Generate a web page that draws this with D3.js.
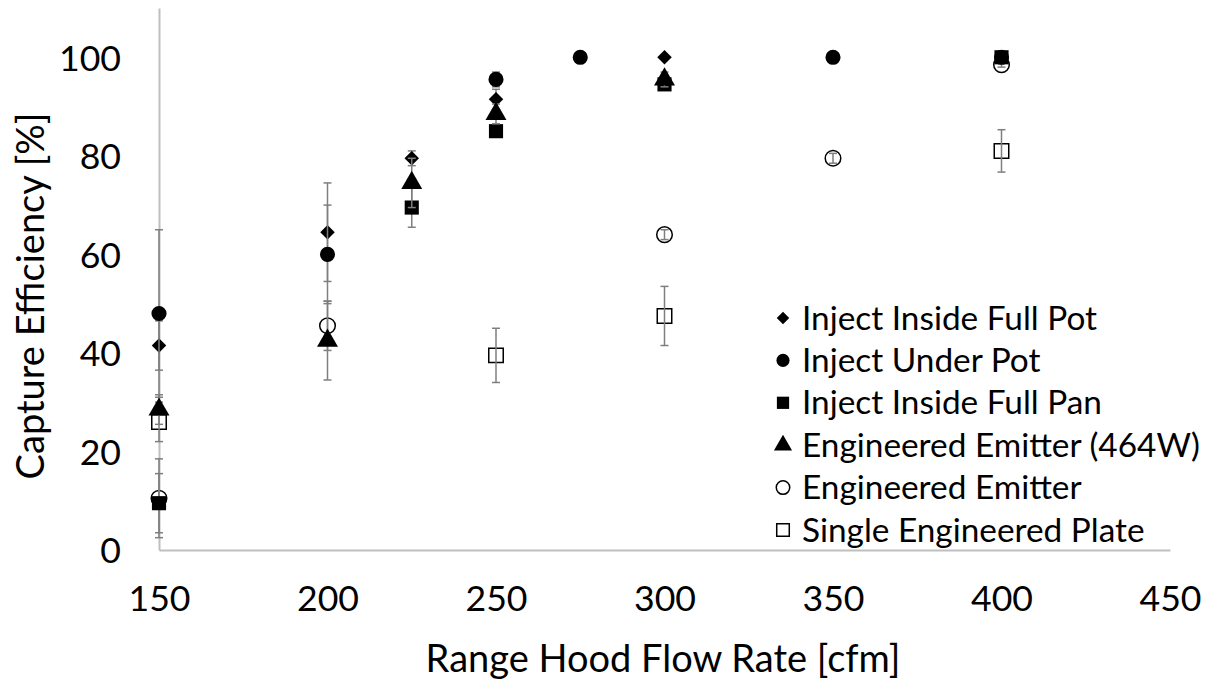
<!DOCTYPE html>
<html>
<head>
<meta charset="utf-8">
<script src="https://cdn.jsdelivr.net/npm/d3@7"></script>
<style>
  body { margin: 0; background: #fff; }
  text { font-family: Lato, "Open Sans", sans-serif; fill: #000; }
</style>
</head>
<body>
<svg id="chart" width="1211" height="680"></svg>
<script>
// data
const seriesNames = ['Inject Inside Full Pot', 'Inject Under Pot', 'Inject Inside Full Pan',
  'Engineered Emitter (464W)', 'Engineered Emitter', 'Single Engineered Plate'];

const potX = [150, 200, 225, 250, 300];
const potY = [41.5, 64.5, 79.5, 91.5, 100];
const potErr = [5, 10, 1.5, 2, 0];

const underX = [150, 200, 250, 275, 350, 400];
const underY = [48, 60, 95.5, 100, 100, 100];
const underErr = [17, 10, 1.5, 0, 0, 0];

const panX = [150, 225, 250, 300, 400];
const panY = [9.5, 69.5, 85, 94.5, 100];
const panErr = [6, 4, 1, 1, 0];

const emit464X = [150, 200, 225, 250, 300];
const emit464Y = [28.5, 42.5, 74.5, 88.5, 95.5];
const emit464Err = [3, 8, 5, 2, 1.5];

const emitX = [150, 200, 300, 350, 400];
const emitY = [10.5, 45.5, 64, 79.5, 98.5];
const emitErr = [8, 5, 1, 1, 0.5];

const plateX = [150, 250, 300, 400];
const plateY = [26, 39.5, 47.5, 81];
const plateErr = [4, 5.5, 6, 4.3];

const xTicks = [150, 200, 250, 300, 350, 400, 450];
const yTicks = [0, 20, 40, 60, 80, 100];

const svg = d3.select('#chart');
const margin = { top: 8, left: 159, right: 41, bottom: 130 };
const width = 1211 - margin.left - margin.right,
  height = 680 - margin.top - margin.bottom;

const x = d3.scaleLinear().domain([150, 450]).range([margin.left, margin.left + width]);
const y = d3.scaleLinear().domain([0, 110]).range([margin.top + height, margin.top]);

// scale a font so a sample string gets a target width
function fitSize(str, target) {
  const t = svg.append('text').attr('font-size', 100).text(str);
  const w = t.node().getComputedTextLength();
  t.remove();
  return 100 * target / w;
}
const tickSize = fitSize('150', 62);
const titleSize = fitSize('Range Hood Flow Rate [cfm]', 475);
const legendSize = fitSize('Engineered Emitter (464W)', 398);

// axes
const xAxis = svg.append('g')
  .attr('transform', 'translate(0,' + y(0) + ')')
  .call(d3.axisBottom(x).tickValues(xTicks).tickSize(0).tickPadding(36));
const yAxis = svg.append('g')
  .attr('transform', 'translate(' + x(150) + ',0)')
  .call(d3.axisLeft(y).tickValues(yTicks).tickSize(0).tickPadding(38));
[xAxis, yAxis].forEach(function (a) {
  a.select('.domain').attr('stroke', '#bfbfbf').attr('stroke-width', 2);
  a.selectAll('text').attr('font-size', tickSize).attr('font-family', 'Lato, sans-serif').attr('fill', '#000');
});
xAxis.selectAll('text').attr('dy', '0.71em');
yAxis.selectAll('text').attr('dy', '0.36em');

svg.append('text')
  .attr('x', 663).attr('y', 672)
  .attr('text-anchor', 'middle')
  .attr('font-size', titleSize)
  .text('Range Hood Flow Rate [cfm]');
svg.append('text')
  .attr('transform', 'translate(44,296) rotate(-90)')
  .attr('text-anchor', 'middle')
  .attr('font-size', titleSize)
  .text('Capture Efficiency [%]');

// series definition, drawn open markers first like the figure
const series = [
  { name: seriesNames[4], xs: emitX, ys: emitY, err: emitErr, shape: d3.symbolCircle, size: 190, fill: '#fff', rot: 0 },
  { name: seriesNames[5], xs: plateX, ys: plateY, err: plateErr, shape: d3.symbolSquare, size: 210, fill: '#fff', rot: 0 },
  { name: seriesNames[0], xs: potX, ys: potY, err: potErr, shape: d3.symbolSquare, size: 105, fill: '#000', rot: 45 },
  { name: seriesNames[1], xs: underX, ys: underY, err: underErr, shape: d3.symbolCircle, size: 180, fill: '#000', rot: 0 },
  { name: seriesNames[2], xs: panX, ys: panY, err: panErr, shape: d3.symbolSquare, size: 200, fill: '#000', rot: 0 },
  { name: seriesNames[3], xs: emit464X, ys: emit464Y, err: emit464Err, shape: d3.symbolTriangle, size: 190, fill: '#000', rot: 0 }
];

const plot = svg.append('g');

function errorBars(pts) {
  const eb = plot.append('g').selectAll('g')
    .data(pts.filter(function (d) { return d.e > 0; }))
    .enter().append('g')
    .attr('stroke', '#7f7f7f').attr('stroke-width', 1.5);
  eb.append('line')
    .attr('x1', function (d) { return x(d.x); }).attr('x2', function (d) { return x(d.x); })
    .attr('y1', function (d) { return y(Math.min(d.y + d.e, 110)); })
    .attr('y2', function (d) { return y(Math.max(d.y - d.e, 0)); });
  [1, -1].forEach(function (sg) {
    eb.append('line')
      .attr('x1', function (d) { return x(d.x) - 4; }).attr('x2', function (d) { return x(d.x) + 4; })
      .attr('y1', function (d) { return y(d.y + sg * d.e); })
      .attr('y2', function (d) { return y(d.y + sg * d.e); });
  });
}

series.forEach(function (s) {
  const pts = s.xs.map(function (v, i) { return { x: v, y: s.ys[i], e: s.err[i] }; });
  const open = s.fill === '#fff';
  if (!open) errorBars(pts);
  plot.append('g').selectAll('path')
    .data(pts)
    .enter().append('path')
    .attr('transform', function (d) { return 'translate(' + x(d.x) + ',' + y(d.y) + ') rotate(' + s.rot + ')'; })
    .attr('d', d3.symbol().type(s.shape).size(s.size))
    .attr('fill', s.fill)
    .attr('stroke', '#000')
    .attr('stroke-width', open ? 1.5 : 0);
  // open markers show their error bars on top
  if (open) errorBars(pts);
});

// legend
const legendOrder = [2, 3, 4, 5, 0, 1];
const legend = svg.append('g');
legendOrder.forEach(function (si, i) {
  const s = series[si];
  const ly = 318 + i * 42.4;
  legend.append('path')
    .attr('transform', 'translate(783,' + ly + ') rotate(' + s.rot + ')')
    .attr('d', d3.symbol().type(s.shape).size(s.size * 0.75))
    .attr('fill', s.fill)
    .attr('stroke', '#000')
    .attr('stroke-width', s.fill === '#fff' ? 1.5 : 0);
  legend.append('text')
    .attr('x', 802).attr('y', ly)
    .attr('dy', '0.35em')
    .attr('font-size', legendSize)
    .text(s.name);
});
</script>
</body>
</html>
